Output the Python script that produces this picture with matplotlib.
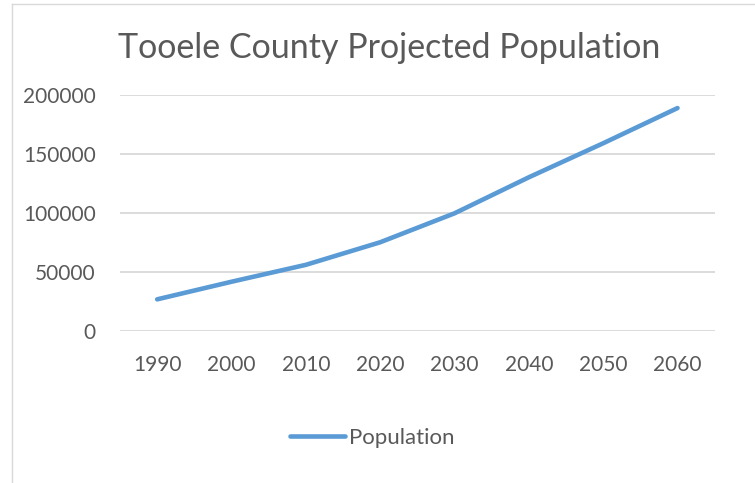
import matplotlib.pyplot as plt
from matplotlib.lines import Line2D

# Tooele County projected population by decade
years = ["1990", "2000", "2010", "2020", "2030", "2040", "2050", "2060"]
population = [26800, 41700, 56000, 75100, 99600, 130100, 158900, 188700]
y_ticks = [0, 50000, 100000, 150000, 200000]

W, H, DPI = 755, 483, 100
LINE_COLOR = "#5B9BD5"
TEXT_COLOR = "#595959"
GRID_COLOR = "#D9D9D9"

plt.rcParams["font.family"] = ["Lato", "DejaVu Sans"]

fig = plt.figure(figsize=(W / DPI, H / DPI), dpi=DPI)

# plot area in pixel coordinates
left, right, top, bottom = 120, 714.7, 94.7, 331
ax = fig.add_axes([left / W, (H - bottom) / H, (right - left) / W, (bottom - top) / H])

xs = list(range(1, len(years) + 1))
ax.plot(xs, population, color=LINE_COLOR, linewidth=3.3,
        solid_capstyle="round", solid_joinstyle="round", label="Population")

ax.set_xlim(0.5, len(years) + 0.5)
ax.set_ylim(0, 200000)
ax.set_yticks(y_ticks)
ax.set_yticklabels([str(v) for v in y_ticks])
ax.set_xticks(xs)
ax.set_xticklabels(years)
ax.grid(axis="y", color=GRID_COLOR, linewidth=1.3)
ax.set_axisbelow(True)
for s in ax.spines.values():
    s.set_visible(False)
ax.tick_params(axis="both", length=0, labelsize=15, colors=TEXT_COLOR)
ax.tick_params(axis="y", pad=17.5)
ax.tick_params(axis="x", pad=17)

fig.text(389 / W, 1 - 48 / H, "Tooele County Projected Population",
         ha="center", va="center", fontsize=24.5, color=TEXT_COLOR)

# legend below the plot
fig.legend(loc="center", bbox_to_anchor=(372 / W, 1 - 438 / H), frameon=False,
           fontsize=16, labelcolor=TEXT_COLOR, handlelength=2.5, handletextpad=0.15)

# chart area border
fig.add_artist(Line2D([12 / W, 12 / W], [0, 1 - 4 / H], color=GRID_COLOR, linewidth=1))
fig.add_artist(Line2D([12 / W, 1], [1 - 4 / H, 1 - 4 / H], color=GRID_COLOR, linewidth=1))

fig.savefig("out.png", dpi=DPI)
